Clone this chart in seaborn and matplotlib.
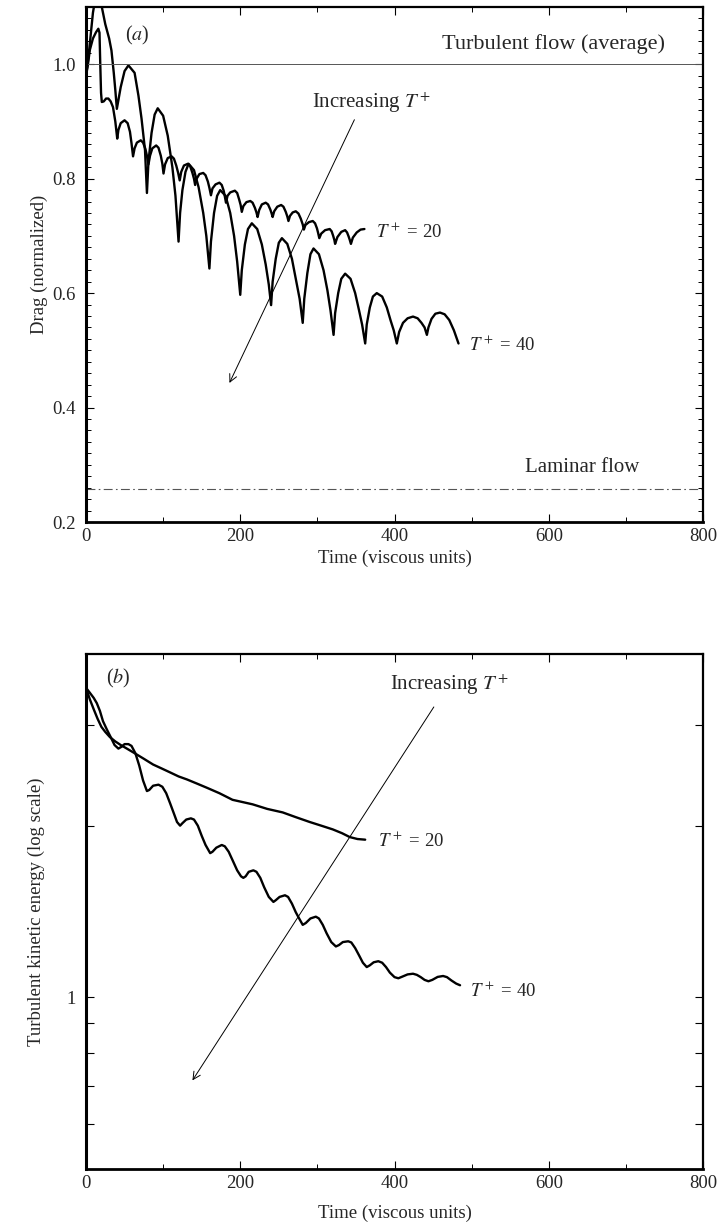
import matplotlib
matplotlib.use("Agg")
import matplotlib.pyplot as plt
import seaborn as sns
import pandas as pd
from matplotlib.ticker import MultipleLocator, FixedLocator, FixedFormatter, NullLocator

# ---------------- data: panel (a) drag ----------------
drag40_t = [0, 3, 6, 9, 14, 19, 25, 30, 33, 36, 38, 40,
            45, 50, 55, 63, 68, 72, 76.5, 79,
            81, 85, 89, 93, 100, 106, 112, 116, 120,
            122, 125, 129, 133, 140, 146, 152, 156, 160,
            162, 166, 170, 174, 181, 187, 192, 196, 200,
            202, 206, 210, 215, 222, 228, 233, 237, 240,
            242, 246, 250, 254, 261, 267, 272, 277, 281,
            283, 287, 291, 295, 302, 308, 313, 317, 321,
            323, 327, 331, 336, 343, 349, 354, 358, 362,
            364, 368, 372, 377, 384, 390, 395, 399, 403,
            406, 411, 417, 424, 430, 435, 439, 442,
            444, 448, 453, 459, 465, 471, 477, 483]
drag40_v = [0.98, 1.01, 1.05, 1.09, 1.13, 1.11, 1.07, 1.045, 1.024, 0.985, 0.955, 0.922,
            0.96, 0.988, 0.998, 0.985, 0.945, 0.905, 0.85, 0.775,
            0.83, 0.88, 0.912, 0.923, 0.91, 0.875, 0.82, 0.77, 0.69,
            0.74, 0.78, 0.812, 0.826, 0.815, 0.785, 0.74, 0.70, 0.643,
            0.69, 0.74, 0.77, 0.78, 0.77, 0.74, 0.70, 0.655, 0.597,
            0.64, 0.685, 0.712, 0.722, 0.712, 0.685, 0.65, 0.615, 0.579,
            0.62, 0.66, 0.688, 0.696, 0.686, 0.66, 0.625, 0.59, 0.548,
            0.59, 0.635, 0.668, 0.678, 0.668, 0.64, 0.605, 0.57, 0.527,
            0.565, 0.60, 0.625, 0.634, 0.625, 0.60, 0.57, 0.545, 0.512,
            0.545, 0.575, 0.594, 0.60, 0.594, 0.575, 0.552, 0.535, 0.512,
            0.532, 0.548, 0.556, 0.559, 0.556, 0.548, 0.54, 0.527,
            0.54, 0.555, 0.564, 0.566, 0.563, 0.553, 0.535, 0.512]

drag20_t = [0, 2, 5, 9, 13, 16, 17.5, 18.5, 19.5, 20.5, 23, 26, 29, 32, 35, 38, 40.5,
            42, 45, 50, 54, 57, 59, 61,
            63, 66, 71, 74, 77, 79, 81,
            83, 86, 91, 94, 97, 99, 100.5,
            102.5, 106, 111, 114, 117, 119.5, 121.5,
            123.5, 127, 132, 135, 138, 140, 141.5,
            143.5, 147, 152, 155, 158, 160, 162,
            164, 168, 173, 176, 178.5, 180, 181.5,
            183.5, 187, 193, 196, 198.5, 200.5, 202,
            204, 208, 213, 216, 219, 221, 222.5,
            224.5, 228, 233, 236, 239, 240.5, 242,
            244, 248, 253, 256, 259, 261, 262.5,
            264.5, 268, 272, 275.5, 278.5, 281, 282.5,
            284.5, 289, 294, 297, 299.5, 301, 302.5,
            305, 310, 316, 318.5, 320.5, 322, 323,
            326, 331, 336, 338.5, 340.5, 342, 343.5,
            346, 351, 356, 361]
drag20_v = [0.98, 0.995, 1.025, 1.045, 1.056, 1.062, 1.055, 1.0, 0.95, 0.934, 0.935, 0.94, 0.94, 0.935, 0.925, 0.90, 0.870,
            0.885, 0.897, 0.902, 0.897, 0.882, 0.862, 0.839,
            0.853, 0.863, 0.867, 0.863, 0.852, 0.84, 0.825,
            0.84, 0.853, 0.858, 0.854, 0.84, 0.826, 0.809,
            0.825, 0.836, 0.839, 0.835, 0.823, 0.81, 0.797,
            0.812, 0.823, 0.826, 0.822, 0.81, 0.80, 0.789,
            0.80, 0.808, 0.81, 0.806, 0.795, 0.784, 0.771,
            0.783, 0.79, 0.793, 0.789, 0.779, 0.769, 0.758,
            0.77, 0.776, 0.779, 0.775, 0.764, 0.754, 0.742,
            0.752, 0.759, 0.761, 0.758, 0.749, 0.741, 0.733,
            0.745, 0.755, 0.758, 0.755, 0.746, 0.740, 0.733,
            0.743, 0.751, 0.754, 0.751, 0.742, 0.734, 0.726,
            0.735, 0.741, 0.743, 0.739, 0.73, 0.72, 0.711,
            0.719, 0.724, 0.726, 0.722, 0.713, 0.705, 0.696,
            0.704, 0.71, 0.712, 0.708, 0.70, 0.693, 0.686,
            0.698, 0.707, 0.71, 0.706, 0.699, 0.693, 0.686,
            0.697, 0.706, 0.711, 0.712]

# ---------------- data: panel (b) turbulent kinetic energy ----------------
tke40_t = [0, 5, 10, 14, 18, 22, 27, 32, 37, 42, 46, 50, 55, 59, 64, 69, 74, 79,
           82, 87, 94, 99, 104, 109, 114, 118, 122, 125, 130, 136, 140, 145, 150, 155, 161,
           164, 169, 176, 180, 185, 190, 196, 201, 204, 207, 211, 217, 221, 226, 231, 237, 243,
           246, 251, 258, 262, 267, 272, 277, 281, 285, 291, 298, 302, 307, 312, 318, 324,
           328, 333, 340, 344, 349, 354, 359, 364, 368, 373, 379, 384, 389, 394, 400, 405,
           410, 417, 424, 429, 434, 439, 444, 449, 456, 463, 468, 474, 480, 485]
tke40_v = [3.49, 3.42, 3.35, 3.28, 3.18, 3.05, 2.95, 2.86, 2.77, 2.73, 2.75, 2.78, 2.78, 2.76, 2.68, 2.55, 2.40, 2.30,
           2.31, 2.35, 2.36, 2.34, 2.28, 2.19, 2.10, 2.03, 2.00, 2.02, 2.05, 2.06, 2.05, 2.00, 1.92, 1.85, 1.79,
           1.80, 1.83, 1.85, 1.84, 1.80, 1.74, 1.67, 1.63, 1.62, 1.63, 1.66, 1.67, 1.66, 1.62, 1.56, 1.50, 1.47,
           1.48, 1.50, 1.51, 1.50, 1.46, 1.41, 1.37, 1.34, 1.35, 1.375, 1.385, 1.375, 1.34, 1.295, 1.25, 1.228,
           1.235, 1.25, 1.254, 1.248, 1.22, 1.185, 1.15, 1.13, 1.138, 1.152, 1.157, 1.15, 1.13, 1.105, 1.085, 1.08,
           1.087, 1.097, 1.10, 1.095, 1.085, 1.073, 1.067, 1.073, 1.086, 1.09, 1.085, 1.07, 1.057, 1.05]

tke20_t = [0, 5, 10, 15, 20, 25, 31, 38, 45, 53, 63, 75, 87, 98, 109, 120, 131, 144, 157,
           173, 190, 203, 216, 235, 255, 272, 290, 305, 320, 332, 342, 352, 362]
tke20_v = [3.49, 3.33, 3.20, 3.08, 2.98, 2.92, 2.86, 2.81, 2.77, 2.73, 2.68, 2.62, 2.56, 2.52, 2.48, 2.44, 2.41, 2.37, 2.33,
           2.28, 2.22, 2.20, 2.18, 2.14, 2.11, 2.07, 2.03, 2.00, 1.97, 1.94, 1.91, 1.895, 1.89]

x_ticks = [0, 200, 400, 600, 800]
drag_ticks = [0.2, 0.4, 0.6, 0.8, 1.0]
drag_tick_labels = ["0.2", "0.4", "0.6", "0.8", "1.0"]
tke_ticks = [0.6, 0.7, 0.8, 0.9, 1, 2, 3]
tke_tick_labels = ["", "", "", "", "1", "", ""]
turbulent_level = 1.0
laminar_level = 0.258

# ---------------- style ----------------
sns.set_theme(style="ticks")
FS = 13.5
plt.rcParams["font.family"] = ["Liberation Serif", "DejaVu Serif"]
plt.rcParams["mathtext.fontset"] = "stix"
plt.rcParams["font.size"] = FS
plt.rcParams["axes.labelsize"] = FS
plt.rcParams["xtick.labelsize"] = FS
plt.rcParams["ytick.labelsize"] = FS

fig = plt.figure(figsize=(7.2, 12.27), dpi=100)
ax1 = fig.add_axes([86/720, 1 - 522/1227, 617/720, 515/1227])
ax2 = fig.add_axes([86/720, 1 - 1169/1227, 617/720, 515/1227])

LW = 1.7
df = pd.DataFrame({"t": drag40_t, "v": drag40_v})
sns.lineplot(data=df, x="t", y="v", ax=ax1, color="black", lw=LW, sort=False, estimator=None)
df = pd.DataFrame({"t": drag20_t, "v": drag20_v})
sns.lineplot(data=df, x="t", y="v", ax=ax1, color="black", lw=LW, sort=False, estimator=None)
df = pd.DataFrame({"t": tke40_t, "v": tke40_v})
sns.lineplot(data=df, x="t", y="v", ax=ax2, color="black", lw=LW, sort=False, estimator=None)
df = pd.DataFrame({"t": tke20_t, "v": tke20_v})
sns.lineplot(data=df, x="t", y="v", ax=ax2, color="black", lw=LW, sort=False, estimator=None)

ax1.axhline(turbulent_level, color="#555555", lw=0.7)
ax1.axhline(laminar_level, color="#555555", lw=0.8, dashes=(8, 3, 1.5, 3))

for ax in (ax1, ax2):
    ax.set_xlim(0, 800)
    ax.xaxis.set_major_locator(FixedLocator(x_ticks))
    ax.xaxis.set_minor_locator(MultipleLocator(100))
    ax.tick_params(which="both", direction="in", top=True, right=True, color="black")
    ax.tick_params(which="major", length=6, width=0.8)
    ax.tick_params(which="minor", length=3.5, width=0.7)
    ax.tick_params(axis="x", which="major", pad=4.5)
    ax.tick_params(axis="y", which="major", pad=7.5)
    for s in ax.spines.values():
        s.set_linewidth(1.6)
        s.set_color("black")
    ax.spines["left"].set_linewidth(2.2)
    ax.spines["bottom"].set_linewidth(2.0)
    ax.set_xlabel("Time (viscous units)")

ax1.set_ylim(0.2, 1.1)
ax1.yaxis.set_major_locator(FixedLocator(drag_ticks))
ax1.yaxis.set_major_formatter(FixedFormatter(drag_tick_labels))
ax1.yaxis.set_minor_locator(MultipleLocator(0.02))
ax1.set_ylabel("Drag (normalized)")
ax1.yaxis.set_label_coords(-0.062, 0.5)
ax1.xaxis.set_label_coords(0.5, -0.054)

ax2.set_yscale("log")
ax2.set_ylim(0.5, 4.0)
ax2.yaxis.set_major_locator(FixedLocator(tke_ticks))
ax2.yaxis.set_major_formatter(FixedFormatter(tke_tick_labels))
ax2.yaxis.set_minor_locator(NullLocator())
ax2.set_ylabel("Turbulent kinetic energy (log scale)")
ax2.yaxis.set_label_coords(-0.067, 0.5)
ax2.xaxis.set_label_coords(0.5, -0.069)

# annotations panel (a)
ax1.text(67, 1.051, r"($a$)", ha="center", va="center", fontsize=14.5)
ax1.text(606, 1.036, "Turbulent flow (average)", ha="center", va="center", fontsize=16)
ax1.text(644, 0.296, "Laminar flow", ha="center", va="center", fontsize=15)
ax1.text(370, 0.933, r"Increasing $T^+$", ha="center", va="center", fontsize=15)
ax1.annotate("", xy=(186, 0.443), xytext=(348, 0.903),
             arrowprops=dict(arrowstyle="->", lw=0.7, color="black", shrinkA=0, shrinkB=0))
ax1.text(376, 0.707, r"$T^+$ = 20", ha="left", va="center")
ax1.text(496, 0.509, r"$T^+$ = 40", ha="left", va="center")

# annotations panel (b)
ax2.text(42, 3.63, r"($b$)", ha="center", va="center", fontsize=14.5)
ax2.text(471, 3.53, r"Increasing $T^+$", ha="center", va="center", fontsize=15)
ax2.annotate("", xy=(138, 0.715), xytext=(451, 3.23),
             arrowprops=dict(arrowstyle="->", lw=0.7, color="black", shrinkA=0, shrinkB=0))
ax2.text(379, 1.876, r"$T^+$ = 20", ha="left", va="center")
ax2.text(498, 1.024, r"$T^+$ = 40", ha="left", va="center")

fig.savefig("out.png", dpi=100)
